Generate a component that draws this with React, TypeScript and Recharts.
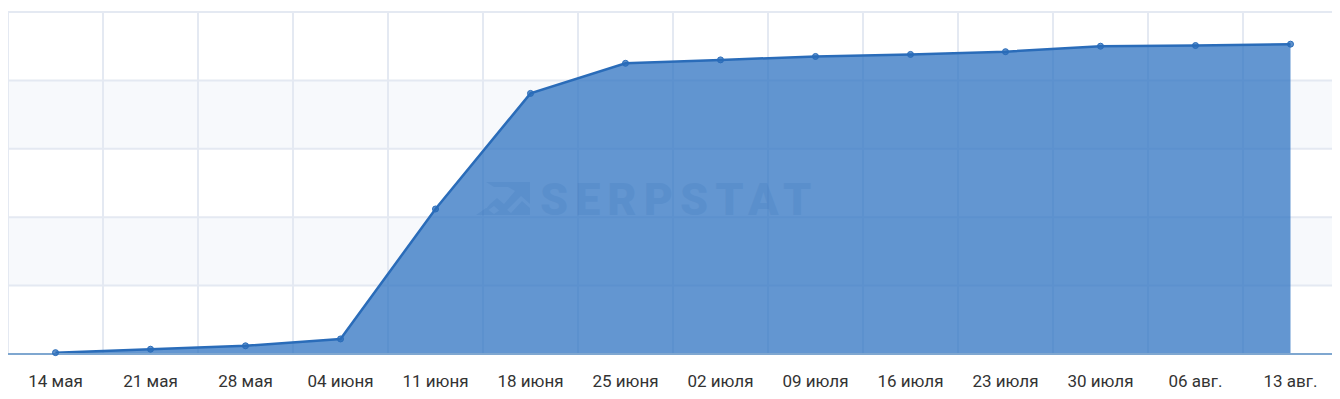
import React from "react";
import { AreaChart, Area, XAxis, YAxis, CartesianGrid, Customized } from "recharts";

const dates = [
  "14 мая", "21 мая", "28 мая", "04 июня", "11 июня", "18 июня", "25 июня",
  "02 июля", "09 июля", "16 июля", "23 июля", "30 июля", "06 авг.", "13 авг.",
];
const values = [2, 7, 12, 22, 212, 381, 425, 430, 435, 438, 442, 450, 451, 453];
const yTicks = [0, 100, 200, 300, 400, 500];

const data = dates.map((d, i) => ({ date: d, value: values[i] }));

const Watermark = () => (
  <g opacity={0.14} fill="#123a6a" style={{ pointerEvents: "none" }}>
    <path d="M478 174 L522 174 L522 196 L513 188 L495 206 L486 198 L472 208 L482 196 L489 190 L496 196 L507 183 L500 179 L486 179 Z" />
    <path d="M468 207 L478 200 L486 206 L496 199 L503 205 L514 193 L522 200 L522 207 Z" />
    <text x={532} y={207} fontFamily="Roboto, Arial, sans-serif" fontWeight={900} fontSize={45} letterSpacing={7}>
      SERPSTAT
    </text>
  </g>
);

export default function App() {
  return (
    <AreaChart
      width={1332}
      height={385}
      data={data}
      margin={{ top: 4, right: 2, left: 0, bottom: 0 }}
    >
      <CartesianGrid
        stroke="#e4e9f2"
        strokeWidth={2}
        horizontalFill={["#ffffff", "#f7f9fc"]}
        horizontalCoordinatesGenerator={({ offset }: any) =>
          yTicks.map((t) => offset.top + offset.height - (t / yTicks[yTicks.length - 1]) * offset.height)
        }
        verticalCoordinatesGenerator={({ offset }: any) =>
          dates.map((_, i) => offset.left + (i * offset.width) / dates.length)
        }
      />
      <Customized component={Watermark} />
      <XAxis
        dataKey="date"
        height={39}
        padding={{ left: 47.5, right: 47.5 }}
        axisLine={{ stroke: "#7fa7d0", strokeWidth: 2 }}
        tickLine={false}
        tickSize={0}
        tickMargin={21}
        interval={0}
        tick={{ fill: "#333333", fontSize: 17, fontFamily: "Roboto, Arial, sans-serif" }}
      />
      <YAxis
        width={0}
        domain={[0, 500]}
        ticks={yTicks}
        tick={false}
        tickLine={false}
        axisLine={{ stroke: "#7fa7d0", strokeWidth: 2 }}
      />
      <Area
        type="linear"
        dataKey="value"
        stroke="#2a6cb9"
        strokeWidth={2.5}
        fill="#2f73c1"
        fillOpacity={0.75}
        dot={{ r: 3, fill: "#2a6cb9", stroke: "#2a6cb9", strokeWidth: 1 }}
        activeDot={false}
        isAnimationActive={false}
      />
    </AreaChart>
  );
}
